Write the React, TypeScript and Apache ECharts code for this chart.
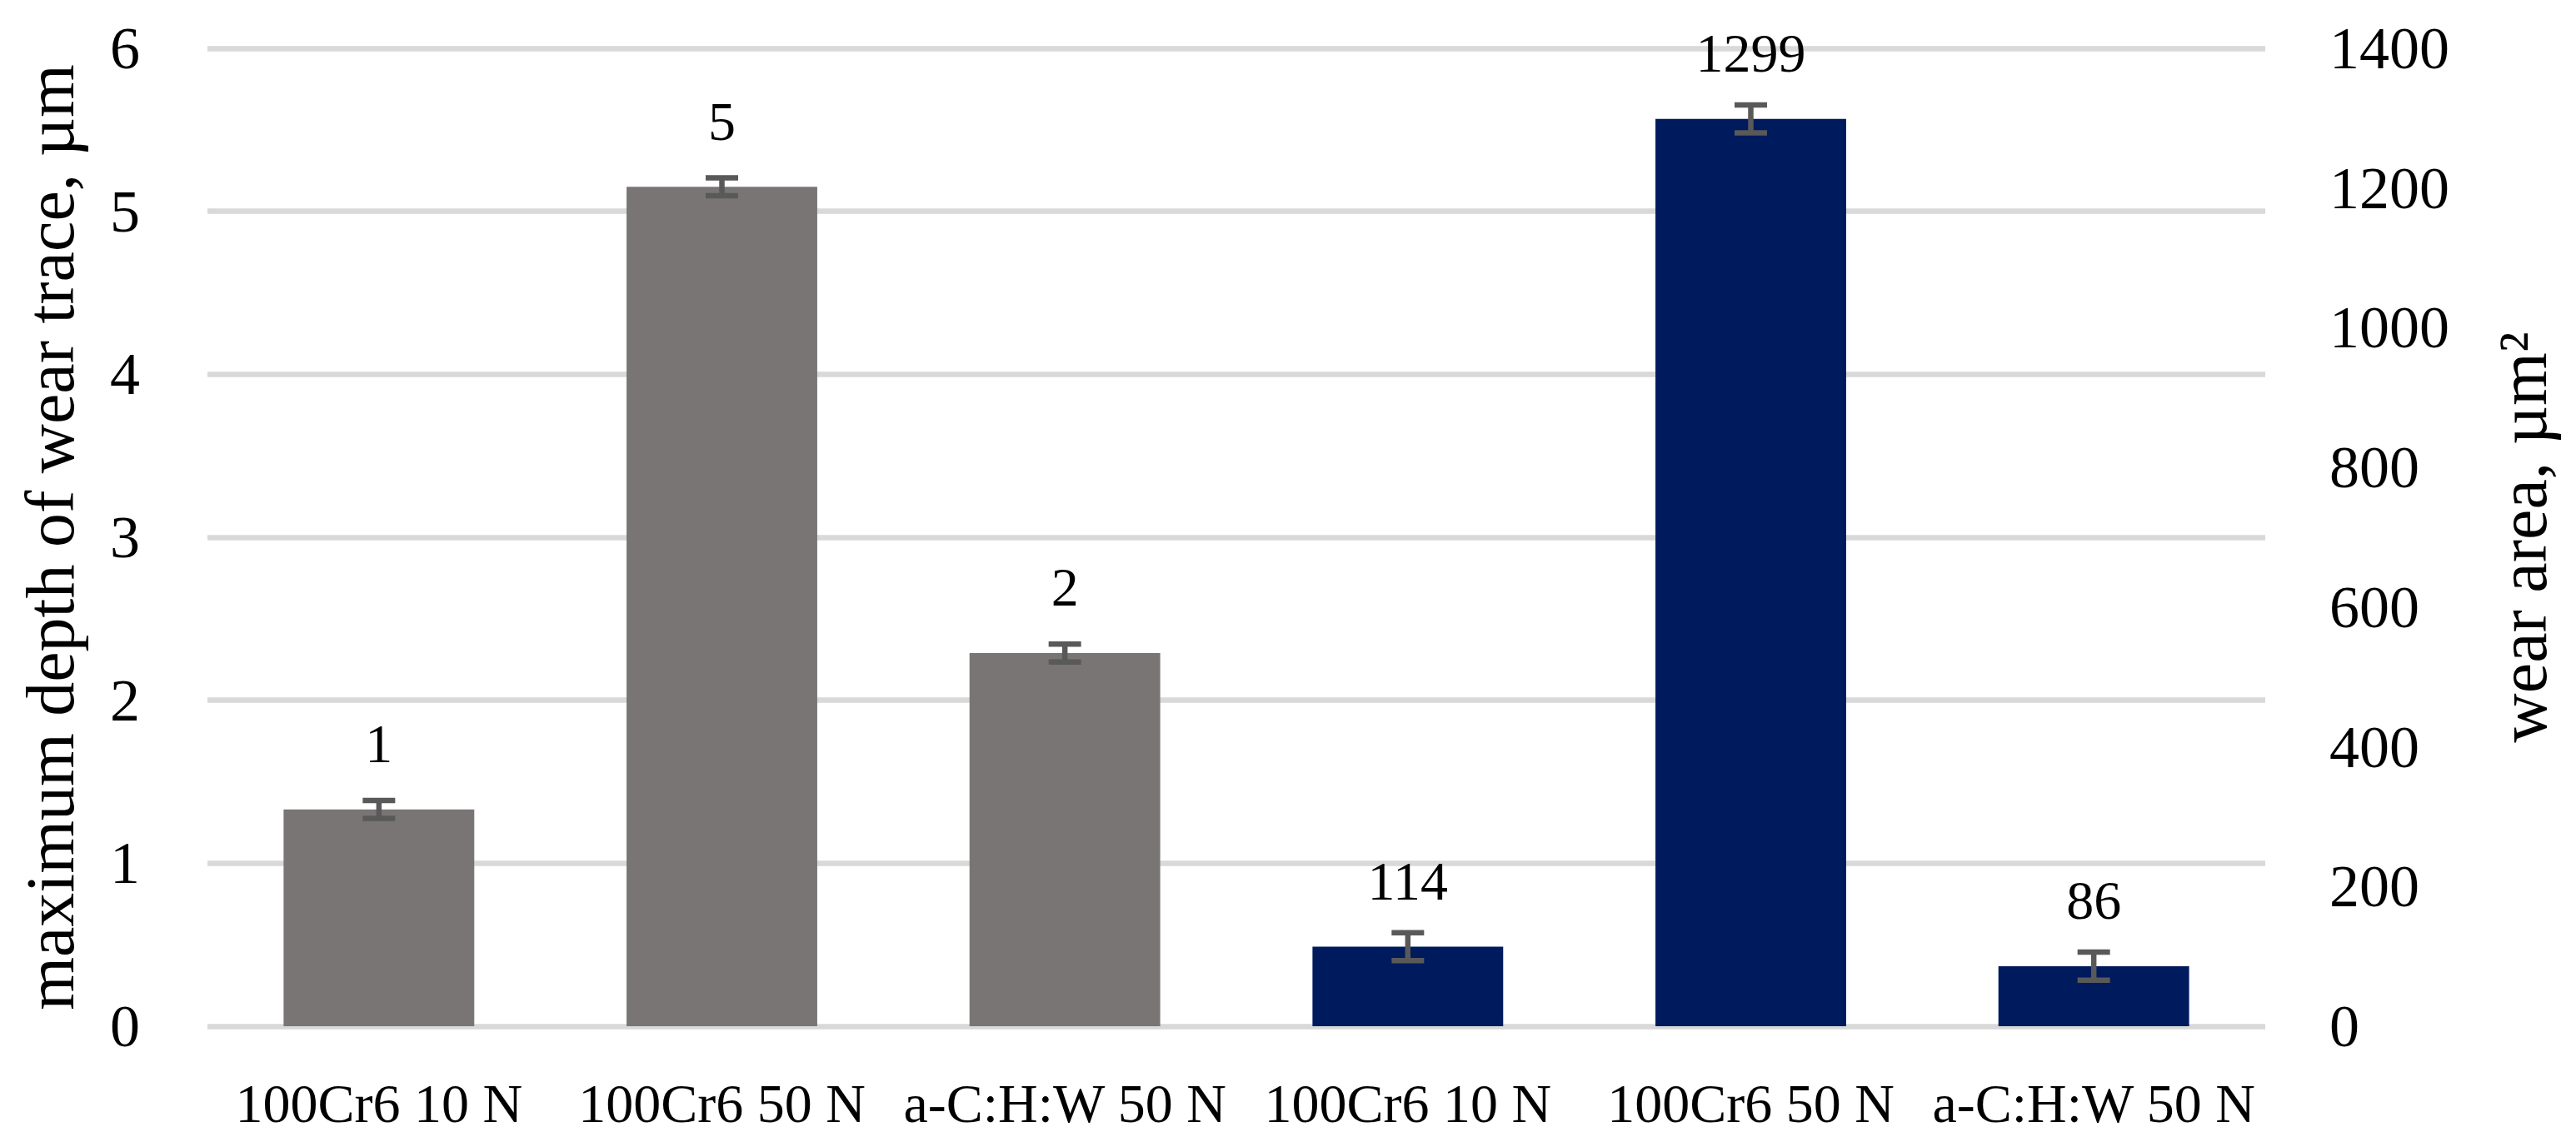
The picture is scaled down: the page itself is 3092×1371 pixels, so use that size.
import { useEffect, useRef } from "react";
import * as echarts from "echarts";

// Wear test results: depth of wear trace (left axis) and wear area (right axis)

const CATEGORIES = [
  "100Cr6 10 N",
  "100Cr6 50 N",
  "a-C:H:W 50 N",
  "100Cr6 10 N",
  "100Cr6 50 N",
  "a-C:H:W 50 N",
];

const DEPTH_VALUES = [1.33, 5.15, 2.29];
const DEPTH_ERRORS = [0.055, 0.055, 0.055];
const AREA_VALUES = [114, 1299, 86];
const AREA_ERRORS = [20, 20, 20];

const DEPTH_TICKS = { min: 0, max: 6, interval: 1 };
const AREA_TICKS = { min: 0, max: 1400, interval: 200 };

const FONT = "Liberation Serif";
const GRAY = "#7a7575";
const NAVY = "#001a5e";
const ERR_COLOR = "#595959";
const GRID_COLOR = "#d9d9d9";

export default function App() {
  const chartRef = useRef<HTMLDivElement>(null);

  useEffect(() => {
    document.body.style.margin = "0";
    if (!chartRef.current) return;
    const chart = echarts.init(chartRef.current, null, { renderer: "svg" });

    // depth series sits in the first three slots, area in the last three
    const depthData = CATEGORIES.map((_, i) => (i < 3 ? DEPTH_VALUES[i] : "-"));
    const areaData = CATEGORIES.map((_, i) => (i >= 3 ? AREA_VALUES[i - 3] : "-"));
    const depthErr = DEPTH_VALUES.map((v, i) => [i, v - DEPTH_ERRORS[i], v + DEPTH_ERRORS[i]]);
    const areaErr = AREA_VALUES.map((v, i) => [i + 3, v - AREA_ERRORS[i], v + AREA_ERRORS[i]]);

    const renderErr = (_params: any, api: any) => {
      const x = api.value(0);
      const lo = api.coord([x, api.value(1)]);
      const hi = api.coord([x, api.value(2)]);
      const hw = 19.5;
      const style = { stroke: ERR_COLOR, lineWidth: 6.5 };
      return {
        type: "group",
        children: [
          { type: "line", shape: { x1: lo[0], y1: lo[1], x2: hi[0], y2: hi[1] }, style },
          { type: "line", shape: { x1: lo[0] - hw, y1: lo[1], x2: lo[0] + hw, y2: lo[1] }, style },
          { type: "line", shape: { x1: hi[0] - hw, y1: hi[1], x2: hi[0] + hw, y2: hi[1] }, style },
        ],
      };
    };

    const labelStyle = {
      show: true,
      position: "top" as const,
      distance: 46,
      fontFamily: FONT,
      fontSize: 66,
      color: "#000",
    };

    chart.setOption({
      animation: false,
      textStyle: { fontFamily: FONT },
      grid: { left: 249, right: 373, top: 58, bottom: 139, outerBoundsMode: "none" },
      xAxis: {
        type: "category",
        data: CATEGORIES,
        axisLine: { show: false },
        axisTick: { show: false },
        axisLabel: { fontFamily: FONT, fontSize: 66, color: "#000", margin: 59, interval: 0 },
      },
      yAxis: [
        {
          type: "value",
          ...DEPTH_TICKS,
          name: "maximum depth of wear trace, µm",
          nameLocation: "middle",
          nameRotate: 90,
          nameGap: 148,
          nameTextStyle: { fontFamily: FONT, fontSize: 82, color: "#000" },
          axisLine: { show: false },
          axisTick: { show: false },
          axisLabel: { fontFamily: FONT, fontSize: 72, color: "#000", margin: 81 },
          splitLine: { lineStyle: { color: GRID_COLOR, width: 6.5 } },
        },
        {
          type: "value",
          ...AREA_TICKS,
          position: "right",
          name: "wear area, µm²",
          nameLocation: "middle",
          nameRotate: 90,
          nameGap: 268,
          nameTextStyle: { fontFamily: FONT, fontSize: 82, color: "#000" },
          axisLine: { show: false },
          axisTick: { show: false },
          axisLabel: {
            fontFamily: FONT,
            fontSize: 72,
            color: "#000",
            margin: 77,
            formatter: (v: number) => String(v),
          },
          splitLine: { show: false },
        },
      ],
      series: [
        {
          type: "bar",
          data: depthData,
          barWidth: "55.6%",
          barGap: "-100%",
          itemStyle: { color: GRAY },
          label: { ...labelStyle, formatter: (p: any) => String(Math.round(p.value)) },
        },
        {
          type: "bar",
          yAxisIndex: 1,
          data: areaData,
          barWidth: "55.6%",
          barGap: "-100%",
          itemStyle: { color: NAVY },
          label: { ...labelStyle, formatter: (p: any) => String(Math.round(p.value)) },
        },
        {
          type: "custom",
          data: depthErr,
          encode: { x: 0, y: [1, 2] },
          renderItem: renderErr,
          z: 5,
        },
        {
          type: "custom",
          yAxisIndex: 1,
          data: areaErr,
          encode: { x: 0, y: [1, 2] },
          renderItem: renderErr,
          z: 5,
        },
      ],
    });

    return () => chart.dispose();
  }, []);

  return (
    <div
      ref={chartRef}
      style={{ position: "absolute", left: 0, top: 0, width: 3092, height: 1371, background: "#fff" }}
    />
  );
}
